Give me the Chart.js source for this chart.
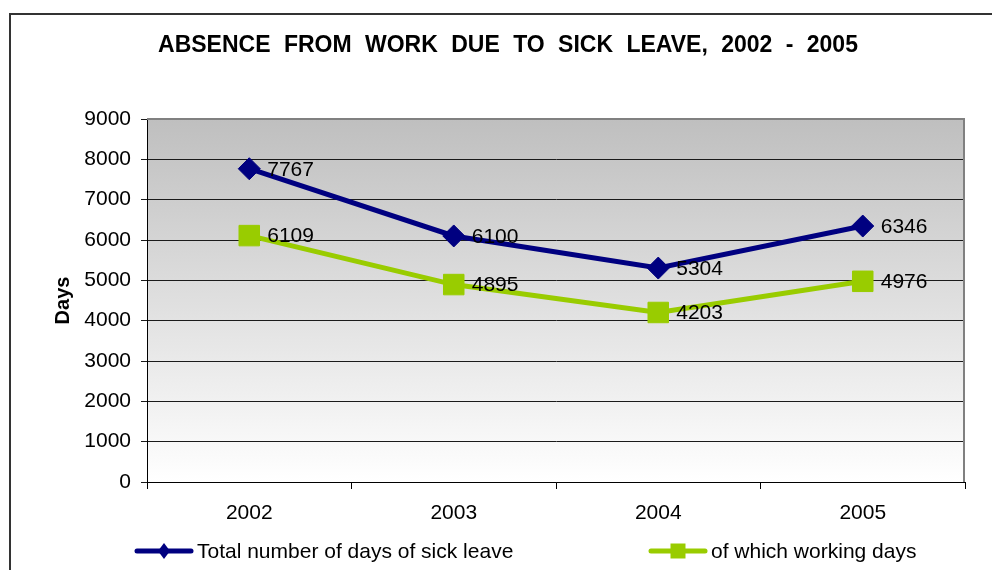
<!DOCTYPE html>
<html>
<head>
<meta charset="utf-8">
<title>Absence from work due to sick leave</title>
<script src="https://cdn.jsdelivr.net/npm/chart.js@4.4.1/dist/chart.umd.min.js"></script>
<style>
    html, body { margin: 0; padding: 0; background: #fff; }
    #wrap { width: 992px; height: 570px; }
</style>
</head>
<body>
<div id="wrap"><canvas id="sickLeaveChart" width="992" height="570"></canvas></div>
<script>
const years = ["2002", "2003", "2004", "2005"];
const totalDays = [7767, 6100, 5304, 6346];
const workingDays = [6109, 4895, 4203, 4976];
const seriesNames = ["Total number of days of sick leave", "of which working days"];
const yMin = 0;
const yMax = 9000;
const yStep = 1000;

const chartTitle = "ABSENCE FROM WORK DUE TO SICK LEAVE, 2002 - 2005";
const FONT = "'Liberation Sans', Arial, Helvetica, sans-serif";
const NAVY = "#000080";
const LIME = "#99cc00";

// white page, outer frame and grey-to-white plot background
const backgroundPlugin = {
    id: "background",
    beforeDraw(chart) {
        const ctx = chart.ctx;
        const { left, top, right, bottom } = chart.chartArea;
        ctx.save();
        ctx.fillStyle = "#fff";
        ctx.fillRect(0, 0, chart.width, chart.height);

        ctx.strokeStyle = "#333";
        ctx.lineWidth = 2;
        ctx.beginPath();
        ctx.moveTo(10, chart.height);
        ctx.lineTo(10, 14);
        ctx.lineTo(chart.width, 14);
        ctx.stroke();

        const grad = ctx.createLinearGradient(0, top, 0, bottom);
        grad.addColorStop(0, "#bfbfbf");
        grad.addColorStop(1, "#ffffff");
        ctx.fillStyle = grad;
        ctx.fillRect(left, top, right - left, bottom - top);

        // title, drawn here so the word gaps can be widened
        ctx.fillStyle = "#000";
        ctx.font = "bold 23px " + FONT;
        ctx.textAlign = "center";
        ctx.textBaseline = "middle";
        if ("wordSpacing" in ctx) ctx.wordSpacing = "7px";
        ctx.fillText(chartTitle, 508, 46);
        if ("wordSpacing" in ctx) ctx.wordSpacing = "0px";
        ctx.restore();
    }
};

// grey border on top and right of the plot area
const plotBorderPlugin = {
    id: "plotBorder",
    beforeDatasetsDraw(chart) {
        const ctx = chart.ctx;
        const { left, top, right, bottom } = chart.chartArea;
        ctx.save();
        ctx.strokeStyle = "#808080";
        ctx.lineWidth = 2;
        ctx.beginPath();
        ctx.moveTo(left, top);
        ctx.lineTo(right - 1, top);
        ctx.lineTo(right - 1, bottom);
        ctx.stroke();
        ctx.restore();
    }
};

// value next to each point
const valueLabelsPlugin = {
    id: "valueLabels",
    afterDatasetsDraw(chart) {
        const ctx = chart.ctx;
        ctx.save();
        ctx.font = "21px " + FONT;
        ctx.fillStyle = "#000";
        ctx.textAlign = "left";
        ctx.textBaseline = "middle";
        chart.data.datasets.forEach((ds, di) => {
            chart.getDatasetMeta(di).data.forEach((pt, i) => {
                ctx.fillText(String(ds.data[i]), pt.x + 18, pt.y + 1);
            });
        });
        ctx.restore();
    }
};

// legend: line with marker, then the series name
const legendPlugin = {
    id: "lineLegend",
    afterDraw(chart) {
        const ctx = chart.ctx;
        const y = 551;
        const items = [
            { x: 135, ds: chart.data.datasets[0], marker: "diamond" },
            { x: 649, ds: chart.data.datasets[1], marker: "square" }
        ];
        ctx.save();
        items.forEach(item => {
            ctx.strokeStyle = item.ds.borderColor;
            ctx.fillStyle = item.ds.borderColor;
            ctx.lineWidth = 5;
            ctx.lineCap = "round";
            ctx.beginPath();
            ctx.moveTo(item.x + 2, y);
            ctx.lineTo(item.x + 56, y);
            ctx.stroke();
            const cx = item.x + 29;
            ctx.beginPath();
            if (item.marker === "diamond") {
                ctx.moveTo(cx, y - 8);
                ctx.lineTo(cx + 6, y);
                ctx.lineTo(cx, y + 8);
                ctx.lineTo(cx - 6, y);
                ctx.closePath();
            } else {
                ctx.rect(cx - 7.5, y - 7.5, 15, 15);
            }
            ctx.fill();
            ctx.fillStyle = "#000";
            ctx.font = "21px " + FONT;
            ctx.textAlign = "left";
            ctx.textBaseline = "middle";
            ctx.fillText(item.ds.label, item.x + 62, y + 1);
        });
        ctx.restore();
    }
};

const ctx = document.getElementById("sickLeaveChart").getContext("2d");
new Chart(ctx, {
    type: "line",
    data: {
        labels: years,
        datasets: [
            {
                label: seriesNames[0],
                data: totalDays,
                borderColor: NAVY,
                backgroundColor: NAVY,
                borderWidth: 5,
                tension: 0,
                pointStyle: "rectRot",
                pointRadius: 11,
                pointBorderWidth: 1,
                pointHoverRadius: 11
            },
            {
                label: seriesNames[1],
                data: workingDays,
                borderColor: LIME,
                backgroundColor: LIME,
                borderWidth: 5,
                tension: 0,
                pointStyle: "rect",
                pointRadius: 14.5,
                pointBorderWidth: 1,
                pointHoverRadius: 14.5
            }
        ]
    },
    options: {
        responsive: false,
        animation: false,
        layout: { padding: { left: 51, right: 27, top: 119, bottom: 0 } },
        scales: {
            x: {
                offset: true,
                grid: {
                    offset: true,
                    drawOnChartArea: false,
                    drawTicks: true,
                    tickLength: 7,
                    color: "#000"
                },
                border: { color: "#000", width: 1 },
                ticks: {
                    color: "#000",
                    font: { family: FONT, size: 21 },
                    padding: 12,
                    maxRotation: 0
                },
                afterFit: (scale) => { scale.height = 88; }
            },
            y: {
                min: yMin,
                max: yMax,
                grid: { color: "#1a1a1a", tickLength: 6 },
                border: { color: "#000", width: 1 },
                ticks: {
                    stepSize: yStep,
                    color: "#000",
                    font: { family: FONT, size: 21 },
                    padding: 10,
                    callback: (value) => String(value)
                },
                title: {
                    display: true,
                    text: "Days",
                    color: "#000",
                    font: { family: FONT, size: 20, weight: "bold" },
                    padding: 0
                },
                afterFit: (scale) => { scale.width = 96; }
            }
        },
        plugins: {
            legend: { display: false },
            title: { display: false },
            tooltip: { enabled: false }
        }
    },
    plugins: [backgroundPlugin, plotBorderPlugin, valueLabelsPlugin, legendPlugin]
});
</script>
</body>
</html>
